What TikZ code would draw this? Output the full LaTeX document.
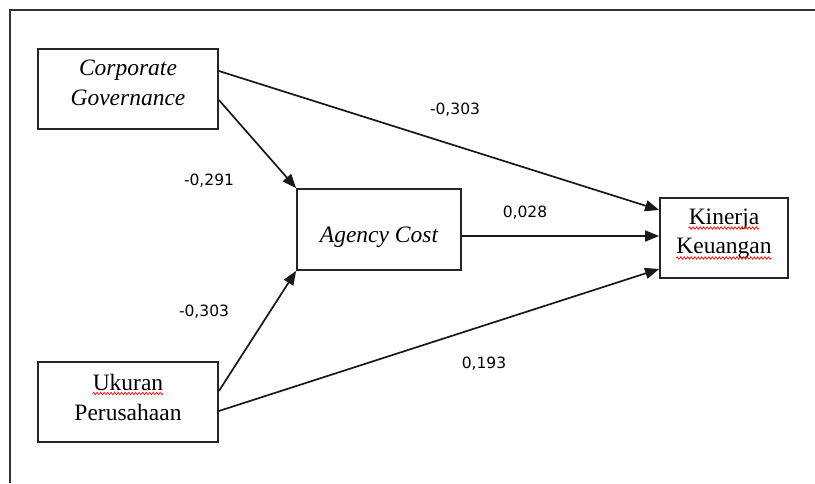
\documentclass[tikz,border=0pt]{standalone}
\usepackage{fontspec}
\setmainfont{Liberation Serif}
\newfontfamily\labfont{DejaVu Sans}
\usetikzlibrary{arrows.meta,decorations.pathmorphing,calc}
\begin{document}
\begin{tikzpicture}[x=1pt,y=-1pt,
  box/.style={draw=black!85,line width=1.8pt,inner sep=0pt},
  txt/.style={inner sep=0pt,anchor=base,font=\fontsize{23.5}{30}\selectfont},
  conn/.style={line width=1.7pt,black!90,-{Triangle[length=14pt,width=11pt]}},
  lab/.style={font=\labfont\fontsize{15.5}{18}\selectfont,inner sep=0pt},
  wave/.style={red,line width=0.7pt,decorate,decoration={snake,amplitude=1.2pt,segment length=3.5pt}}]
\useasboundingbox (0,0) rectangle (815,483);
\draw[line width=1.4pt,black!80] (815,10) -- (10,10) -- (10,483);

\node[box,minimum width=180pt,minimum height=80pt] (cg) at (128,89) {};
\node[box,minimum width=164pt,minimum height=81pt] (ac) at (379,229.5) {};
\node[box,minimum width=128pt,minimum height=80pt] (ki) at (724,238) {};
\node[box,minimum width=180pt,minimum height=80pt] (uk) at (128,402) {};

\node[txt] (cg1) at ($(cg.center)+(0,-14)$) {\itshape Corporate};
\node[txt] (cg2) at ($(cg.center)+(0,16)$) {\itshape Governance};
\node[txt] (ac1) at ($(ac.center)+(0,13)$) {\itshape Agency Cost};
\node[txt] (ki1) at ($(ki.center)+(0,-14)$) {Kinerja};
\node[txt] (ki2) at ($(ki.center)+(0,15)$) {Keuangan};
\node[txt] (uk1) at ($(uk.center)+(0,-12)$) {Ukuran};
\node[txt] (uk2) at ($(uk.center)+(0,18)$) {Perusahaan};

\coordinate (acout) at ($(ac.east)+(0,6.5)$);
\draw[conn] ($(cg.east)+(0,-18)$) -- ($(ki.west)+(0,-28)$);
\draw[conn] ($(cg.east)+(0,11)$) -- (ac.north west);
\draw[conn] ($(uk.east)+(0,-11)$) -- (ac.south west);
\draw[conn] ($(uk.east)+(0,9)$) -- ($(ki.west)+(0,31)$);
\draw[conn] (acout) -- (acout -| ki.west);

\node[lab] (l1) at (455,110) {-0,303};
\node[lab] (l2) at (209,181) {-0,291};
\node[lab] (l3) at (525,213) {0,028};
\node[lab] (l4) at (204,312) {-0,303};
\node[lab] (l5) at (484,364) {0,193};

\draw[wave] ($(uk1.base west)+(0,3.5)$) -- ($(uk1.base east)+(0,3.5)$);
\draw[wave] ($(ki1.base west)+(0,4)$) -- ($(ki1.base east)+(0,4)$);
\draw[wave] ($(ki2.base west)+(0,5)$) -- ($(ki2.base east)+(0,5)$);
\end{tikzpicture}
\end{document}
